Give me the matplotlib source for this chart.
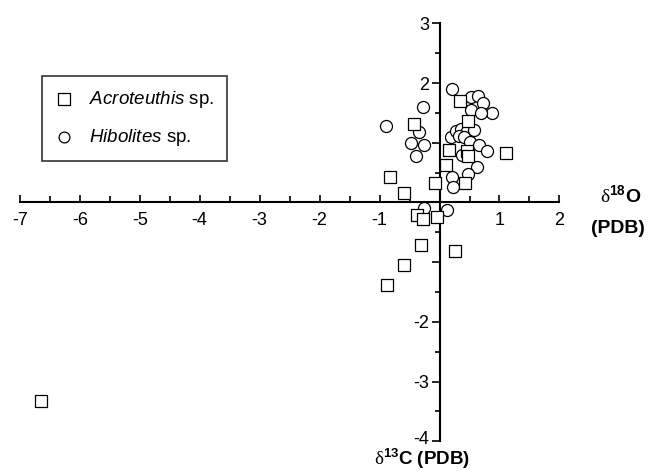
import matplotlib
matplotlib.use('Agg')
import matplotlib.pyplot as plt
from matplotlib.ticker import FixedLocator, FixedFormatter
from matplotlib.transforms import ScaledTranslation

plt.rcParams['font.family'] = ['Liberation Sans', 'DejaVu Sans']
plt.rcParams['mathtext.fontset'] = 'custom'
plt.rcParams['mathtext.rm'] = 'Liberation Serif'
plt.rcParams['mathtext.it'] = 'Liberation Sans:italic'
plt.rcParams['mathtext.bf'] = 'Liberation Sans:bold'

# Acroteuthis sp. (squares)
acro_o = [-6.65, -0.88, -0.59, -0.31, 0.26, -0.38, -0.28, -0.04, -0.60, -0.83,
          -0.08, 0.43, 0.11, 0.15, 0.45, 0.47, 1.11, -0.43, 0.34, 0.47]
acro_c = [-3.33, -1.39, -1.05, -0.72, -0.81, -0.21, -0.27, -0.24, 0.15, 0.42,
          0.32, 0.33, 0.62, 0.88, 0.86, 0.77, 0.82, 1.31, 1.70, 1.36]

# Hibolites sp. (circles)
hib_o = [-0.89, -0.28, -0.35, -0.48, -0.26, -0.40, -0.26, 0.12,
         0.20, 0.52, 0.64, 0.73, 0.87, 0.53, 0.69,
         0.19, 0.28, 0.36, 0.46, 0.58, 0.32, 0.40, 0.51, 0.65, 0.79,
         0.37, 0.62, 0.48, 0.20, 0.23]
hib_c = [1.28, 1.60, 1.18, 1.00, 0.96, 0.77, -0.10, -0.13,
         1.90, 1.77, 1.79, 1.66, 1.50, 1.55, 1.50,
         1.09, 1.20, 1.23, 1.20, 1.21, 1.11, 1.09, 1.02, 0.96, 0.86,
         0.80, 0.60, 0.48, 0.43, 0.26]

x_ticks = [-7, -6, -5, -4, -3, -2, -1, 0, 1, 2]
x_labels = ['-7', '-6', '-5', '-4', '-3', '-2', '-1', '', '1', '2']
y_ticks = [-4, -3, -2, -1, 0, 1, 2, 3]
y_labels = ['-4', '-3', '-2', '', '', '', '2', '3']

fig = plt.figure(figsize=(6.5, 4.73), dpi=100)
ax = fig.add_axes([0, 0, 1, 1])
ax.set_xlim(-7.33, 3.51)
ax.set_ylim(-4.53, 3.39)

ax.scatter(hib_o, hib_c, s=75, marker='o', facecolor='white', edgecolor='black',
           linewidth=0.9, zorder=3, label=r'$\mathit{Hibolites}$ sp.')
ax.scatter(acro_o, acro_c, s=80, marker='s', facecolor='white', edgecolor='black',
           linewidth=0.9, zorder=4, label=r'$\mathit{Acroteuthis}$ sp.')

for s in ['right', 'top']:
    ax.spines[s].set_visible(False)
ax.spines['left'].set_position(('data', 0))
ax.spines['bottom'].set_position(('data', 0))
ax.spines['left'].set_bounds(-4, 3)
ax.spines['bottom'].set_bounds(-7, 2)
ax.spines['left'].set_linewidth(1.5)
ax.spines['bottom'].set_linewidth(1.5)

ax.xaxis.set_major_locator(FixedLocator(x_ticks))
ax.xaxis.set_major_formatter(FixedFormatter(x_labels))
ax.xaxis.set_minor_locator(FixedLocator([t + 0.5 for t in x_ticks[:-1]]))
ax.yaxis.set_major_locator(FixedLocator(y_ticks))
ax.yaxis.set_major_formatter(FixedFormatter(y_labels))
ax.yaxis.set_minor_locator(FixedLocator([t + 0.5 for t in y_ticks[:-1]]))

ax.tick_params(axis='x', which='both', direction='in', labelsize=13, pad=7, width=1.2)
ax.tick_params(axis='x', which='major', length=5)
ax.tick_params(axis='x', which='minor', length=4)
ax.tick_params(axis='y', which='both', direction='out', labelsize=13, pad=2, width=1.2)
ax.tick_params(axis='y', which='major', length=5.5)
ax.tick_params(axis='y', which='minor', length=3.6)

# nudge the "-4" label up a touch so it clears the axis title below
lowest = ax.yaxis.get_major_ticks()[0].label1
lowest.set_transform(lowest.get_transform() + ScaledTranslation(0, 2.5 / 72, fig.dpi_scale_trans))

ax.text(2.68, 0.12, r'$\mathrm{\delta}^{\mathbf{18}}\mathbf{O}$', fontsize=14,
        ha='left', va='center')
ax.text(2.52, -0.43, '(PDB)', fontsize=14, fontweight='bold', ha='left', va='center')
ax.text(-0.29, -4.5, r'$\mathrm{\delta}^{\mathbf{13}}\mathbf{C}$ (PDB)', fontsize=13.5,
        fontweight='bold', ha='center', va='bottom')

h, l = ax.get_legend_handles_labels()
leg = ax.legend(h[::-1], l[::-1], loc='upper left', bbox_to_anchor=(0.0646, 0.839),
                bbox_transform=fig.transFigure, fontsize=13.5, frameon=True,
                fancybox=False, edgecolor='black', borderpad=0.7, labelspacing=0.9,
                handlelength=1.0, handletextpad=0.8, markerscale=0.9,
                borderaxespad=0)
leg.get_frame().set_linewidth(1.2)

fig.savefig('out.png', dpi=100)
